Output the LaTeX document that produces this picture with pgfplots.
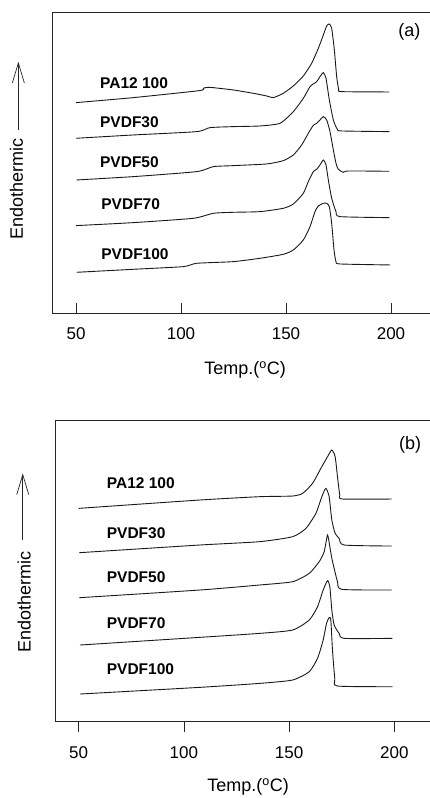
\documentclass[border=0pt]{standalone}
\usepackage{pgfplots}
\pgfplotsset{compat=1.18}
\usepackage{fontspec}
\setmainfont{Liberation Sans}
\usetikzlibrary{arrows.meta}
\newcommand\ticksize{\fontsize{17bp}{20bp}\selectfont}
\newcommand\labsize{\fontsize{18bp}{21bp}\selectfont}
\newcommand\cursize{\fontsize{15.5bp}{18bp}\selectfont\bfseries}
\tikzset{cl/.style={anchor=west, inner sep=0pt, font=\cursize}}
\pgfplotsset{
  dsc/.style={
    scale only axis,
    axis x line=box, axis y line=left,
    axis line style={-, line width=0.8bp, black!85},
    ytick=\empty, xtick={50,100,150,200}, xtick pos=bottom,
    major tick length=10bp,
    tick style={line width=0.7bp, black!85},
    /pgf/number format/assume math mode=true,
    xticklabel style={font=\ticksize, anchor=center, inner sep=0pt},
    ylabel={Endothermic},
    ylabel style={font=\labsize, anchor=center, inner sep=0pt},
    xlabel={Temp.(\textsuperscript{o}C)},
    xlabel style={font=\labsize, anchor=center, inner sep=0pt},
    clip=false,
    every axis plot post/.append style={black!90, line width=0.9bp, mark=none, smooth, tension=0.35},
  },
}
\begin{document}
\begin{tikzpicture}
\path[use as bounding box] (0,0) rectangle (430bp,798bp);
% ---------------- panel (a)
\begin{axis}[dsc, at={(52bp,484.7bp)}, anchor=south west,
  width=378bp, height=301.3bp,
  xmin=38.57, xmax=218.57, ymin=0, ymax=301.3,
  tick align=inside,
  xticklabel style={yshift=-20bp},
  xlabel style={at={(axis description cs:0.511,-0.188)}},
  ylabel style={at={(axis description cs:-0.094,0.414)}},
]
\addplot coordinates {(50,210.67)(77.30,215.67)(108.73,222.67)(110.63,225)(113.49,226)(124.92,223.33)(134.44,220)(140.79,217.33)(143.97,215.67)(148.73,220)(153.49,227.33)(158.25,237.33)(162.22,250)(165.40,265)(167.78,278.33)(169.37,287.33)(170.63,289.33)(171.75,285)(173.02,263.33)(174.13,236.67)(175.08,224)(176.51,221.67)(199.21,221.33)};
\addplot coordinates {(50,175)(77.30,178.33)(107.46,181.67)(113.81,185.67)(124.92,186.67)(137.62,187.33)(147.14,190)(153.49,201.67)(158.25,215)(161.43,226.67)(163.02,229.33)(164.60,231.67)(166.19,236.67)(167.78,240.67)(169.05,235)(170.63,213.33)(172.54,193.33)(174.44,184)(176.51,182.33)(199.21,181.67)};
\addplot coordinates {(50.32,133.33)(77.30,136.67)(107.46,141.67)(115.40,146.67)(124.92,147.67)(140.79,149.33)(148.73,152.67)(153.49,158.33)(157.46,168.33)(160.63,180)(163.02,188)(164.60,190)(166.19,193.33)(167.78,196.67)(169.37,193.33)(170.95,181.67)(172.54,163.33)(173.81,150)(174.92,144)(177.30,141)(179.68,142.33)(199.21,142)};
\addplot coordinates {(50,87.67)(77.30,90.67)(105.87,95)(115.40,100)(124.92,101)(137.62,101.67)(148.73,105)(153.49,109.33)(158.25,120)(160.63,131.67)(163.02,141.67)(164.60,144)(166.19,148.33)(167.78,153.33)(169.05,148.33)(170.16,133.33)(171.75,115)(173.81,101.67)(175.71,96.67)(199.21,95.67)};
\addplot coordinates {(50.32,41)(77.30,44)(101.11,46.67)(107.46,50)(124.92,51.67)(137.62,55)(148.73,59)(153.49,63.33)(158.25,73.33)(161.43,86.67)(163.81,101.67)(165.40,107.33)(167.78,110)(169.37,110)(170.63,106.67)(171.75,90)(172.86,63.33)(173.81,51.67)(175.71,49.33)(199.52,48.33)};
\node[cl] at (axis cs:61.4,230.3) {PA12 100};
\node[cl] at (axis cs:61.4,191.3) {PVDF30};
\node[cl] at (axis cs:61.4,151.3) {PVDF50};
\node[cl] at (axis cs:62.0,109) {PVDF70};
\node[cl] at (axis cs:62.0,59) {PVDF100};
\node[font=\labsize, anchor=center, inner sep=0pt] at (axis cs:208.7,281.3) {(a)};
\draw[line width=0.7bp, black!85, -{Straight Barb[length=20bp,width=12bp]}] (rel axis cs:-0.089,0.608) -- (rel axis cs:-0.089,0.835);
\end{axis}
% ---------------- panel (b)
\begin{axis}[dsc, at={(55bp,76.3bp)}, anchor=south west,
  width=375bp, height=301.7bp,
  xmin=38.74, xmax=216.97, ymin=0, ymax=301.7,
  tick align=outside,
  xticklabel style={yshift=-21bp},
  xlabel style={at={(axis description cs:0.515,-0.217)}},
  ylabel style={at={(axis description cs:-0.082,0.398)}},
]
\addplot coordinates {(50,213.33)(107.47,221.67)(135.89,225)(151.68,225.67)(156.42,228.33)(161.15,238.33)(165.10,253.33)(168.26,265)(170.31,271.67)(171.89,265)(173.00,245)(174.10,226.67)(175.37,222.67)(198.74,222.67)};
\addplot coordinates {(50.32,169)(107.47,176.67)(135.89,180)(151.68,185)(158.0,193.33)(162.73,208.33)(165.57,225)(167.46,233.33)(169.04,225)(170.31,201.67)(171.89,188.33)(173.78,183.33)(176.15,176.67)(198.74,175.67)};
\addplot coordinates {(50.32,124)(107.47,131.67)(135.89,136.67)(151.68,140)(159.58,148.33)(164.31,160)(166.68,170)(168.26,186.67)(169.37,175)(170.31,163.33)(171.42,153.33)(173.0,140)(175.05,132.33)(198.74,131.67)};
\addplot coordinates {(50.63,76.67)(107.47,84.33)(135.89,88.3)(151.68,91.67)(159.58,101.67)(163.52,115)(166.20,131.67)(168.26,141)(169.37,135)(170.31,111.67)(171.42,96.67)(173.78,88.33)(176.15,83.33)(199.05,83.33)};
\addplot coordinates {(50.63,27.67)(107.47,34.33)(135.89,38.3)(151.68,41.67)(159.58,50)(163.52,63.33)(166.20,81.67)(167.78,98.33)(169.04,104)(169.83,101.67)(170.62,71.67)(171.73,43.33)(173.0,35.67)(199.05,35)};
\node[cl] at (axis cs:63.3,238.3) {PA12 100};
\node[cl] at (axis cs:63.3,188.3) {PVDF30};
\node[cl] at (axis cs:63.3,145) {PVDF50};
\node[cl] at (axis cs:63.3,99) {PVDF70};
\node[cl] at (axis cs:63.3,52.3) {PVDF100};
\node[font=\labsize, anchor=center, inner sep=0pt] at (axis cs:207.5,276.7) {(b)};
\draw[line width=0.7bp, black!85, -{Straight Barb[length=20bp,width=12bp]}] (rel axis cs:-0.086,0.602) -- (rel axis cs:-0.086,0.823);
\end{axis}
\end{tikzpicture}
\end{document}
